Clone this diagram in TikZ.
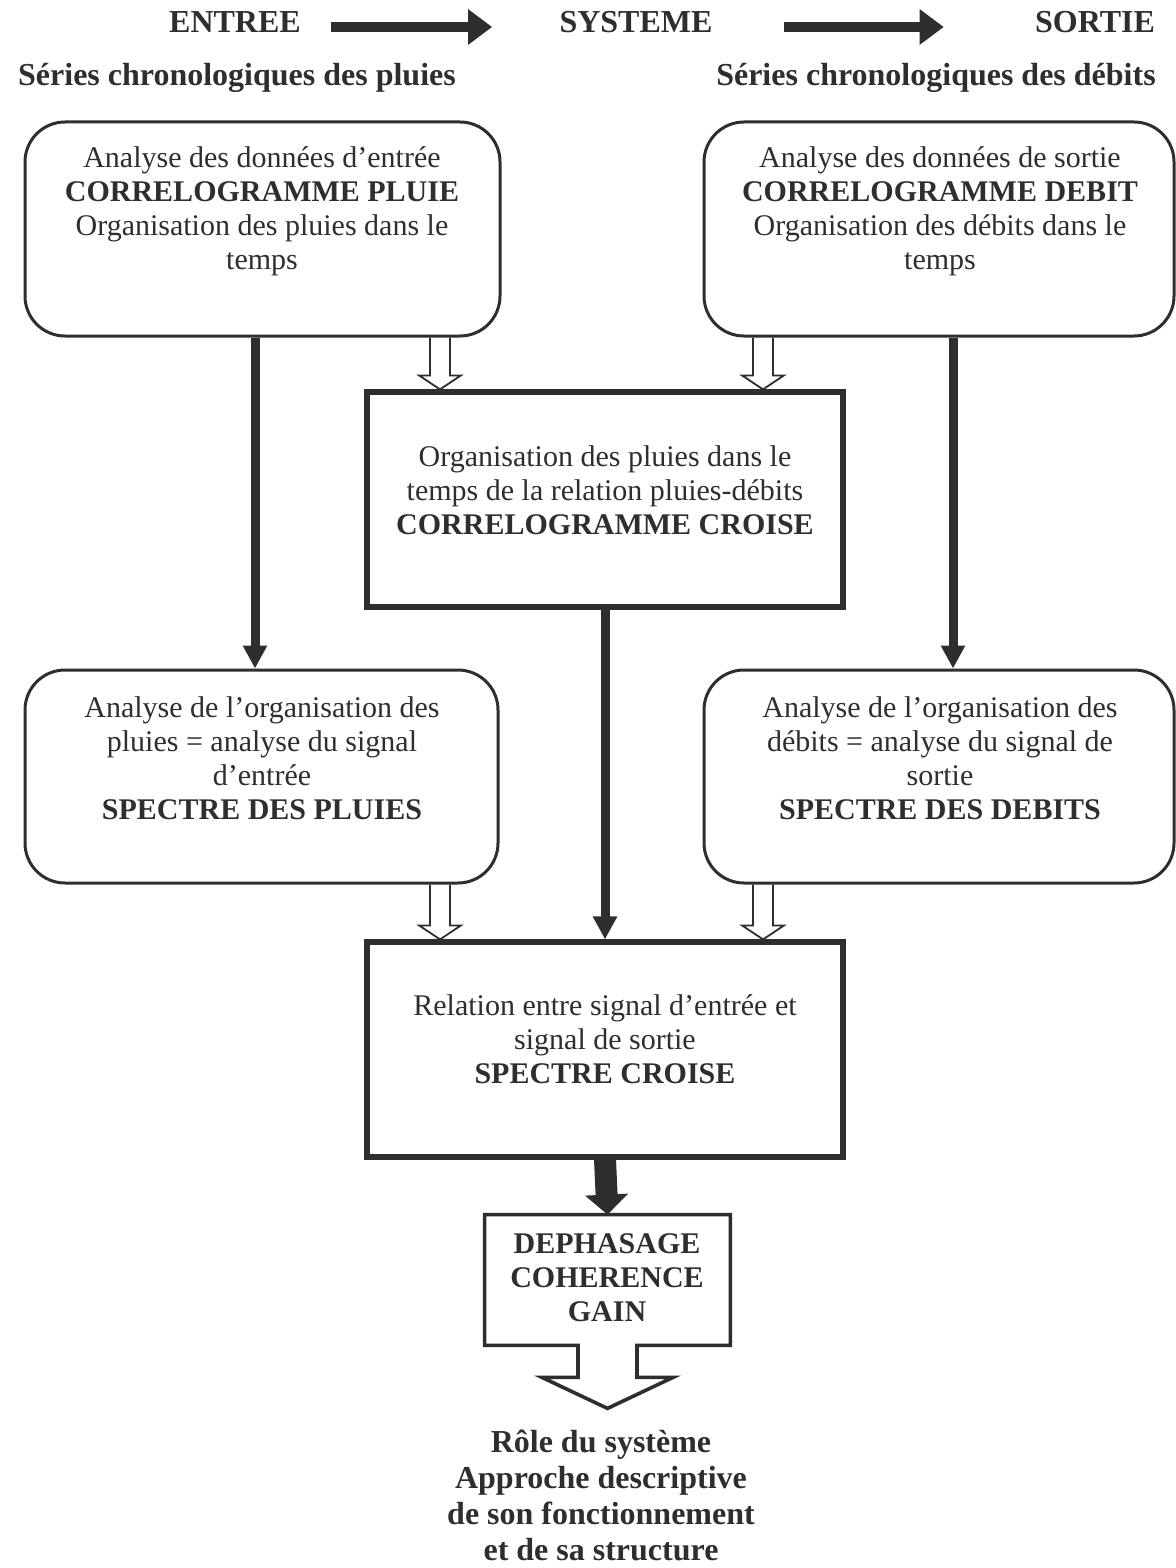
\documentclass[tikz,border=0pt]{standalone}
\usepackage{fontspec}
\setmainfont{Liberation Serif}
\usetikzlibrary{arrows.meta,calc,backgrounds}
\definecolor{ink}{HTML}{2E2E30}
\begin{document}
\begin{tikzpicture}[x=0.5pt,y=-0.5pt,
  rbox/.style={draw=ink, line width=1.5pt, rounded corners=20pt, inner sep=0pt},
  sbox/.style={draw=ink, line width=2.6pt, inner sep=0pt},
  txt/.style={text=ink, align=center, font=\fontsize{15}{17}\selectfont, inner sep=0pt},
  ttl/.style={text=ink, font=\bfseries\fontsize{16}{18}\selectfont, inner sep=0pt},
  darrow/.style={draw=ink, line width=4.5pt, -{Triangle[width=11.5pt,length=11.5pt]}},
  toparrow/.style={draw=ink, line width=5pt, -{Triangle[width=17pt,length=12pt]}},
  fatarrow/.style={draw=ink, line width=11pt, -{Triangle[width=21pt,length=10pt]}},
  holl/.style={draw=ink, line width=0.9pt, fill=white},
]
\useasboundingbox (0,0) rectangle (1176,1568);

% titles
\node[ttl] (t1) at (235,22) {ENTREE};
\node[ttl] (t2) at (636,22) {SYSTEME};
\node[ttl] (t3) at (1095,22) {SORTIE};
\node[ttl] (s1) at (237,78) {Séries chronologiques des pluies};
\node[ttl] (s2) at (936,78) {Séries chronologiques des débits};
\draw[toparrow] ($(t1.east)+(30,5)$) -- ($(t2.west)+(-67,5)$);
\draw[toparrow] ($(t2.east)+(71,5)$) -- ($(t3.west)+(-91,5)$);

% boxes
\node[rbox, minimum width=237.5pt, minimum height=107pt] (b1) at (262.5,229) {};
\node[rbox, minimum width=235pt, minimum height=107pt] (b2) at (939,229) {};
\node[sbox, minimum width=238pt, minimum height=107.5pt] (b3) at (605,499.5) {};
\node[rbox, minimum width=236.5pt, minimum height=106.5pt] (b4) at (261.5,776.5) {};
\node[rbox, minimum width=235pt, minimum height=106.5pt] (b5) at (939,776.5) {};
\node[sbox, minimum width=238pt, minimum height=107.5pt] (b6) at (605,1049.5) {};
\node[minimum width=122.5pt, minimum height=65pt, inner sep=0pt] (d) at (607.5,1280) {};

% texts
\node[txt] (x1) at (262,211) {Analyse des données d’entrée\\ \textbf{CORRELOGRAMME PLUIE}\\ Organisation des pluies dans le\\ temps};
\node[txt] (x2) at (940,211) {Analyse des données de sortie\\ \textbf{CORRELOGRAMME DEBIT}\\ Organisation des débits dans le\\ temps};
\node[txt] (x3) at (605,490) {Organisation des pluies dans le\\ temps de la relation pluies-débits\\ \textbf{CORRELOGRAMME CROISE}};
\node[txt] (x4) at (262,758) {Analyse de l’organisation des\\ pluies = analyse du signal\\ d’entrée\\ \textbf{SPECTRE DES PLUIES}};
\node[txt] (x5) at (940,758) {Analyse de l’organisation des\\ débits = analyse du signal de\\ sortie\\ \textbf{SPECTRE DES DEBITS}};
\node[txt] (x6) at (605,1039) {Relation entre signal d’entrée et\\ signal de sortie\\ \textbf{SPECTRE CROISE}};
\node[txt, font=\bfseries\fontsize{15}{17}\selectfont] (x7) at (607,1278) {DEPHASAGE\\ COHERENCE\\ GAIN};
\node[txt, font=\bfseries\fontsize{16}{18}\selectfont] (x8) at (601,1495) {Rôle du système\\ Approche descriptive\\ de son fonctionnement\\ et de sa structure};

% dark arrows
\coordinate (xl) at (255,0);
\coordinate (xr) at (953,0);
\coordinate (hl) at (440,0);
\coordinate (hr) at (763,0);
\draw[darrow] (b1.south -| xl) -- (b4.north -| xl);
\draw[darrow] (b2.south -| xr) -- (b5.north -| xr);
\draw[darrow] (b3.south) -- (b6.north);
\draw[fatarrow] (b6.south) -- (d.north);

% hollow arrows
\newcommand{\hollowarrow}[2]{%
  \draw[holl] ($(#1)+(-10,0)$) -- ($(#2)+(-10,-14)$) -- ($(#2)+(-21,-14)$) -- (#2)
    -- ($(#2)+(21,-14)$) -- ($(#2)+(10,-14)$) -- ($(#1)+(10,0)$);}
\begin{pgfonlayer}{background}
\hollowarrow{b1.south -| hl}{b3.north -| hl}
\hollowarrow{b2.south -| hr}{b3.north -| hr}
\hollowarrow{b4.south -| hl}{b6.north -| hl}
\hollowarrow{b5.south -| hr}{b6.north -| hr}
\end{pgfonlayer}

% callout outline
\draw[draw=ink, line width=1.8pt, line join=miter]
  ($(d.south)+(-29.5,0)$) -- (d.south west) -- (d.north west) -- (d.north east) -- (d.south east)
  -- ($(d.south)+(29.5,0)$) -- ($(d.south)+(29.5,32)$) -- ($(d.south)+(65.5,32)$)
  -- ($(d.south)+(0,63)$) -- ($(d.south)+(-65.5,32)$) -- ($(d.south)+(-29.5,32)$) -- cycle;
\end{tikzpicture}
\end{document}
